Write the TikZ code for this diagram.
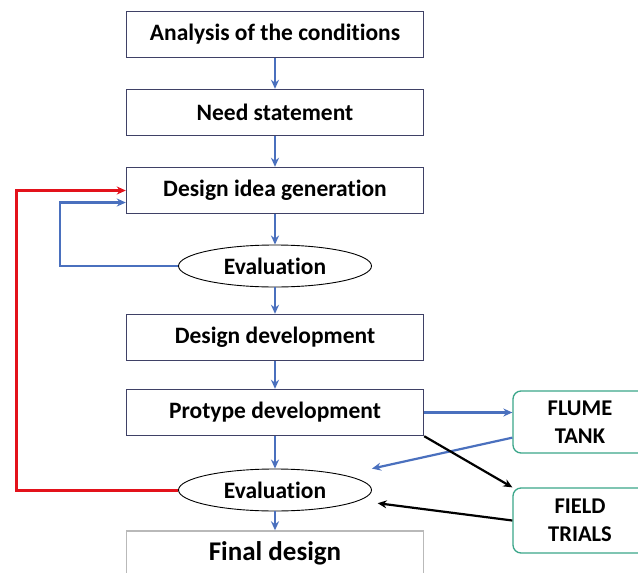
\documentclass[tikz,border=0pt]{standalone}
\usepackage{fontspec}
\setmainfont{Carlito}[RawFeature={-liga;-dlig;-clig}]
\usetikzlibrary{shapes.geometric,arrows.meta}
\definecolor{boxline}{HTML}{3F4166}
\definecolor{flowblue}{HTML}{4A70BE}
\definecolor{loopred}{HTML}{E3121B}
\definecolor{trialteal}{HTML}{3BA68A}
\begin{document}
\begin{tikzpicture}[x=1pt,y=-1pt,>={Stealth[length=9pt,width=8pt]},thick,
    font=\fontsize{23.5}{28}\selectfont\bfseries,
    stage/.style={draw=boxline, line width=1.4pt, minimum width=297pt, minimum height=46pt, fill=white},
    evalnode/.style={draw, ellipse, line width=0.9pt, minimum width=193pt, minimum height=42pt, inner sep=0pt, fill=white},
    testnode/.style={draw=trialteal, rounded corners=8pt, line width=1.3pt, minimum width=134pt, align=center,
        font=\fontsize{22.5}{28}\selectfont\bfseries},
    flow/.style={->, flowblue, line width=2.2pt}]
        \useasboundingbox (0,0) rectangle (638,573);
        \clip (0,0) rectangle (638,573);
        \fill[white] (0,0) rectangle (638,573);
        % Nodes
        \node[stage] (analysis) at (275,34.5) {Analysis of the conditions};
        \node[stage] (need) at (275,112.5) {Need statement};
        \node[stage] (idea) at (275,190.5) {Design idea generation};
        \node[evalnode] (eval1) at (275,266) {Evaluation};
        \node[stage] (devel) at (275,337.5) {Design development};
        \node[stage] (proto) at (275,412.5) {Protype development};
        \node[evalnode] (eval2) at (275,490) {Evaluation};
        \node[stage, draw=gray!55, minimum height=44pt] (final) at (275,553) {\fontsize{27}{32}\selectfont Final design};
        \node[testnode, minimum height=62pt] (flume) at (580,422) {FLUME\\TANK};
        \node[testnode, minimum height=65pt] (field) at (580,520.5) {FIELD\\TRIALS};
        \coordinate (redturn) at (16,0);
        \coordinate (blueturn) at (60,0);
        % Arrows
        \draw[flow] (analysis) -- (need);
        \draw[flow] (need) -- (idea);
        \draw[flow] (idea) -- (eval1);
        \draw[flow] (eval1) -- (devel);
        \draw[flow] (devel) -- (proto);
        \draw[flow] (proto) -- (eval2);
        \draw[flow] (eval2) -- (final);
        \draw[flow] (eval1.west) -- (eval1.west -| blueturn) |- ([yshift=-12pt]idea.west);
        \draw[->, loopred, line width=3pt] (eval2.west) -- (eval2.west -| redturn) |- (idea.west);
        \draw[flow] (proto.east) -- (proto.east -| flume.west);
        \draw[flow, shorten >=29pt] ([yshift=16pt]flume.south west) -- (eval2);
        \draw[->, line width=2.2pt] (proto.south east) -- (field.north west);
        \draw[->, line width=2.2pt, shorten >=19pt] (field.west) -- (eval2);

    \end{tikzpicture}
\end{document}
